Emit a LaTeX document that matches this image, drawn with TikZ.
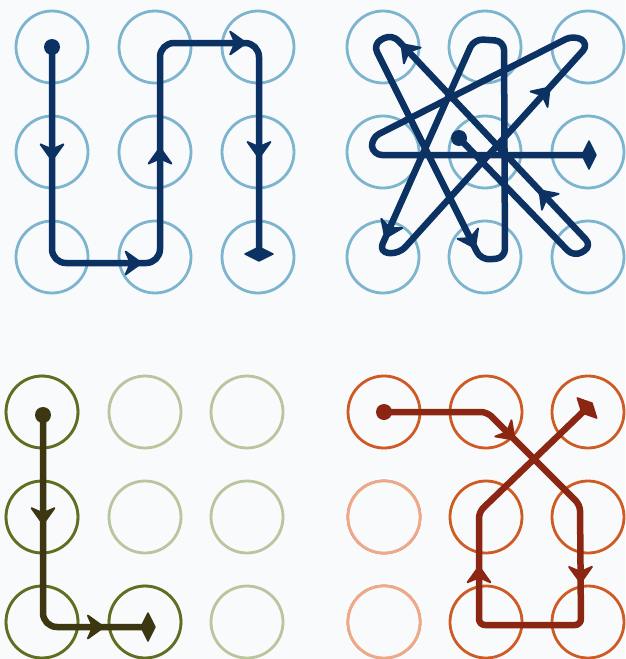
\documentclass[tikz,border=0pt]{standalone}
\usetikzlibrary{calc}
\definecolor{bgc}{HTML}{F9FAFC}
\definecolor{bluec}{HTML}{7DB5CF}
\definecolor{navy}{HTML}{0C3264}
\definecolor{olived}{HTML}{5F6F22}
\definecolor{olivel}{HTML}{B8C69E}
\definecolor{olivep}{HTML}{3C3611}
\definecolor{orad}{HTML}{CF5B24}
\definecolor{oral}{HTML}{EDAA8A}
\definecolor{orap}{HTML}{8B2613}
\tikzset{
  ring/.style={circle, draw=#1, line width=2.8pt, minimum size=72pt, inner sep=0pt},
  trail/.style={draw=#1, line width=6.5pt, line join=round, line cap=round},
  ahead/.pic={\filldraw[line width=1.8pt, line join=round] (1,0) -- (-15,11.5) -- (-10,0) -- (-15,-11.5) -- cycle;},
  dmd/.pic={\filldraw[line width=1.5pt, line join=round] (7,0) -- (0,14) -- (-7,0) -- (0,-14) -- cycle;}
}
% arrowhead on segment #2->#3 at fraction #4, colour #1
\newcommand\headat[4]{\path let \p1=($(#3)-(#2)$), \n1={atan2(\y1,\x1)} in ($(#2)!#4!(#3)$) pic[rotate=\n1, color=#1] {ahead};}
% diamond at #3, oriented along #2->#3
\newcommand\diamat[3]{\path let \p1=($(#3)-(#2)$), \n1={atan2(\y1,\x1)} in (#3) pic[rotate=\n1, color=#1] {dmd};}
\begin{document}
\begin{tikzpicture}[x=1pt,y=-1pt]
\fill[bgc] (0,0) rectangle (625,659);
\useasboundingbox (0,0) rectangle (625,659);
% ---------- top-left grid ----------
\foreach \i/\x in {1/52,2/155,3/258}
  \foreach \j/\y in {1/47,2/152,3/257}
    \node[ring=bluec] (tl\i\j) at (\x,\y) {};
\coordinate (a1) at (52,47);
\coordinate (a2) at (52,263);
\coordinate (a3) at (160,263);
\coordinate (a4) at (160,43);
\coordinate (a5) at (259,43);
\coordinate (a6) at (259,254);
\draw[trail=navy, rounded corners=14pt] (a1) -- (a2) -- (a3) -- (a4) -- (a5) -- (a6);
\fill[navy] (a1) circle[radius=8];
\diamat{navy}{a5}{a6}
\headat{navy}{a1}{a2}{0.52}
\headat{navy}{a2}{a3}{0.82}
\headat{navy}{a3}{a4}{0.52}
\headat{navy}{a4}{a5}{0.86}
\headat{navy}{a5}{a6}{0.54}
% ---------- top-right grid ----------
\foreach \i/\x in {1/383,2/485,3/588}
  \foreach \j/\y in {1/47,2/152,3/257}
    \node[ring=bluec] (tr\i\j) at (\x,\y) {};
\coordinate (b0) at (459,138);
\coordinate (b1) at (574,257);
\coordinate (b2) at (592,246);
\coordinate (b3) at (392,34);
\coordinate (b4) at (373,44);
\coordinate (b5) at (481,260);
\coordinate (b6) at (505,258);
\coordinate (b7) at (504,41);
\coordinate (b8) at (474,39);
\coordinate (b9) at (379,252);
\coordinate (b10) at (399,254);
\coordinate (b11) at (589,44);
\coordinate (b12) at (574,35);
\coordinate (b13) at (371,138);
\coordinate (b14) at (373,155);
\coordinate (b15) at (589,155);
\draw[trail=navy, rounded corners=9pt] (b0) -- (b1) -- (b2) -- (b3) -- (b4) -- (b5) -- (b6) -- (b7) -- (b8) -- (b9) -- (b10) -- (b11) -- (b12) -- (b13) -- (b14) -- (b15);
\fill[navy] (b0) circle[radius=8];
\diamat{navy}{b14}{b15}
\headat{navy}{b2}{b3}{0.26}
\headat{navy}{b2}{b3}{0.95}
\headat{navy}{b4}{b5}{0.94}
\headat{navy}{b8}{b9}{0.93}
\headat{navy}{b10}{b11}{0.79}
% ---------- bottom-left grid ----------
\foreach \i/\x in {1/42,2/145,3/247}
  \foreach \j/\y in {1/412,2/517,3/622}
    \node[ring=olivel] (bl\i\j) at (\x,\y) {};
\node[ring=olived] at (bl11) {};
\node[ring=olived] at (bl12) {};
\node[ring=olived] at (bl13) {};
\node[ring=olived] at (bl23) {};
\coordinate (c1) at (43,415);
\coordinate (c2) at (43,627);
\coordinate (c3) at (148,627);
\draw[trail=olivep, rounded corners=14pt] (c1) -- (c2) -- (c3);
\fill[olivep] (c1) circle[radius=8];
\diamat{olivep}{c2}{c3}
\headat{olivep}{c1}{c2}{0.51}
\headat{olivep}{c2}{c3}{0.57}
% ---------- bottom-right grid ----------
\foreach \i/\x in {1/384,2/486,3/588}
  \foreach \j/\y in {1/412,2/517,3/622}
    \node[ring=orad] (br\i\j) at (\x,\y) {};
\node[ring=oral, fill=bgc] at (br12) {};
\node[ring=oral, fill=bgc] at (br13) {};
\coordinate (d1) at (384,412);
\coordinate (d2) at (487,412);
\coordinate (d3) at (580,505);
\coordinate (d4) at (581,625);
\coordinate (d5) at (479,625);
\coordinate (d6) at (479,512);
\coordinate (d7) at (587,408);
\draw[trail=orap, rounded corners=6pt] (d1) -- (d2) -- (d3) -- (d4) -- (d5) -- (d6) -- (d7);
\fill[orap] (d1) circle[radius=8];
\diamat{orap}{d6}{d7}
\headat{orap}{d2}{d3}{0.29}
\headat{orap}{d3}{d4}{0.64}
\headat{orap}{d5}{d6}{0.51}
\end{tikzpicture}
\end{document}
